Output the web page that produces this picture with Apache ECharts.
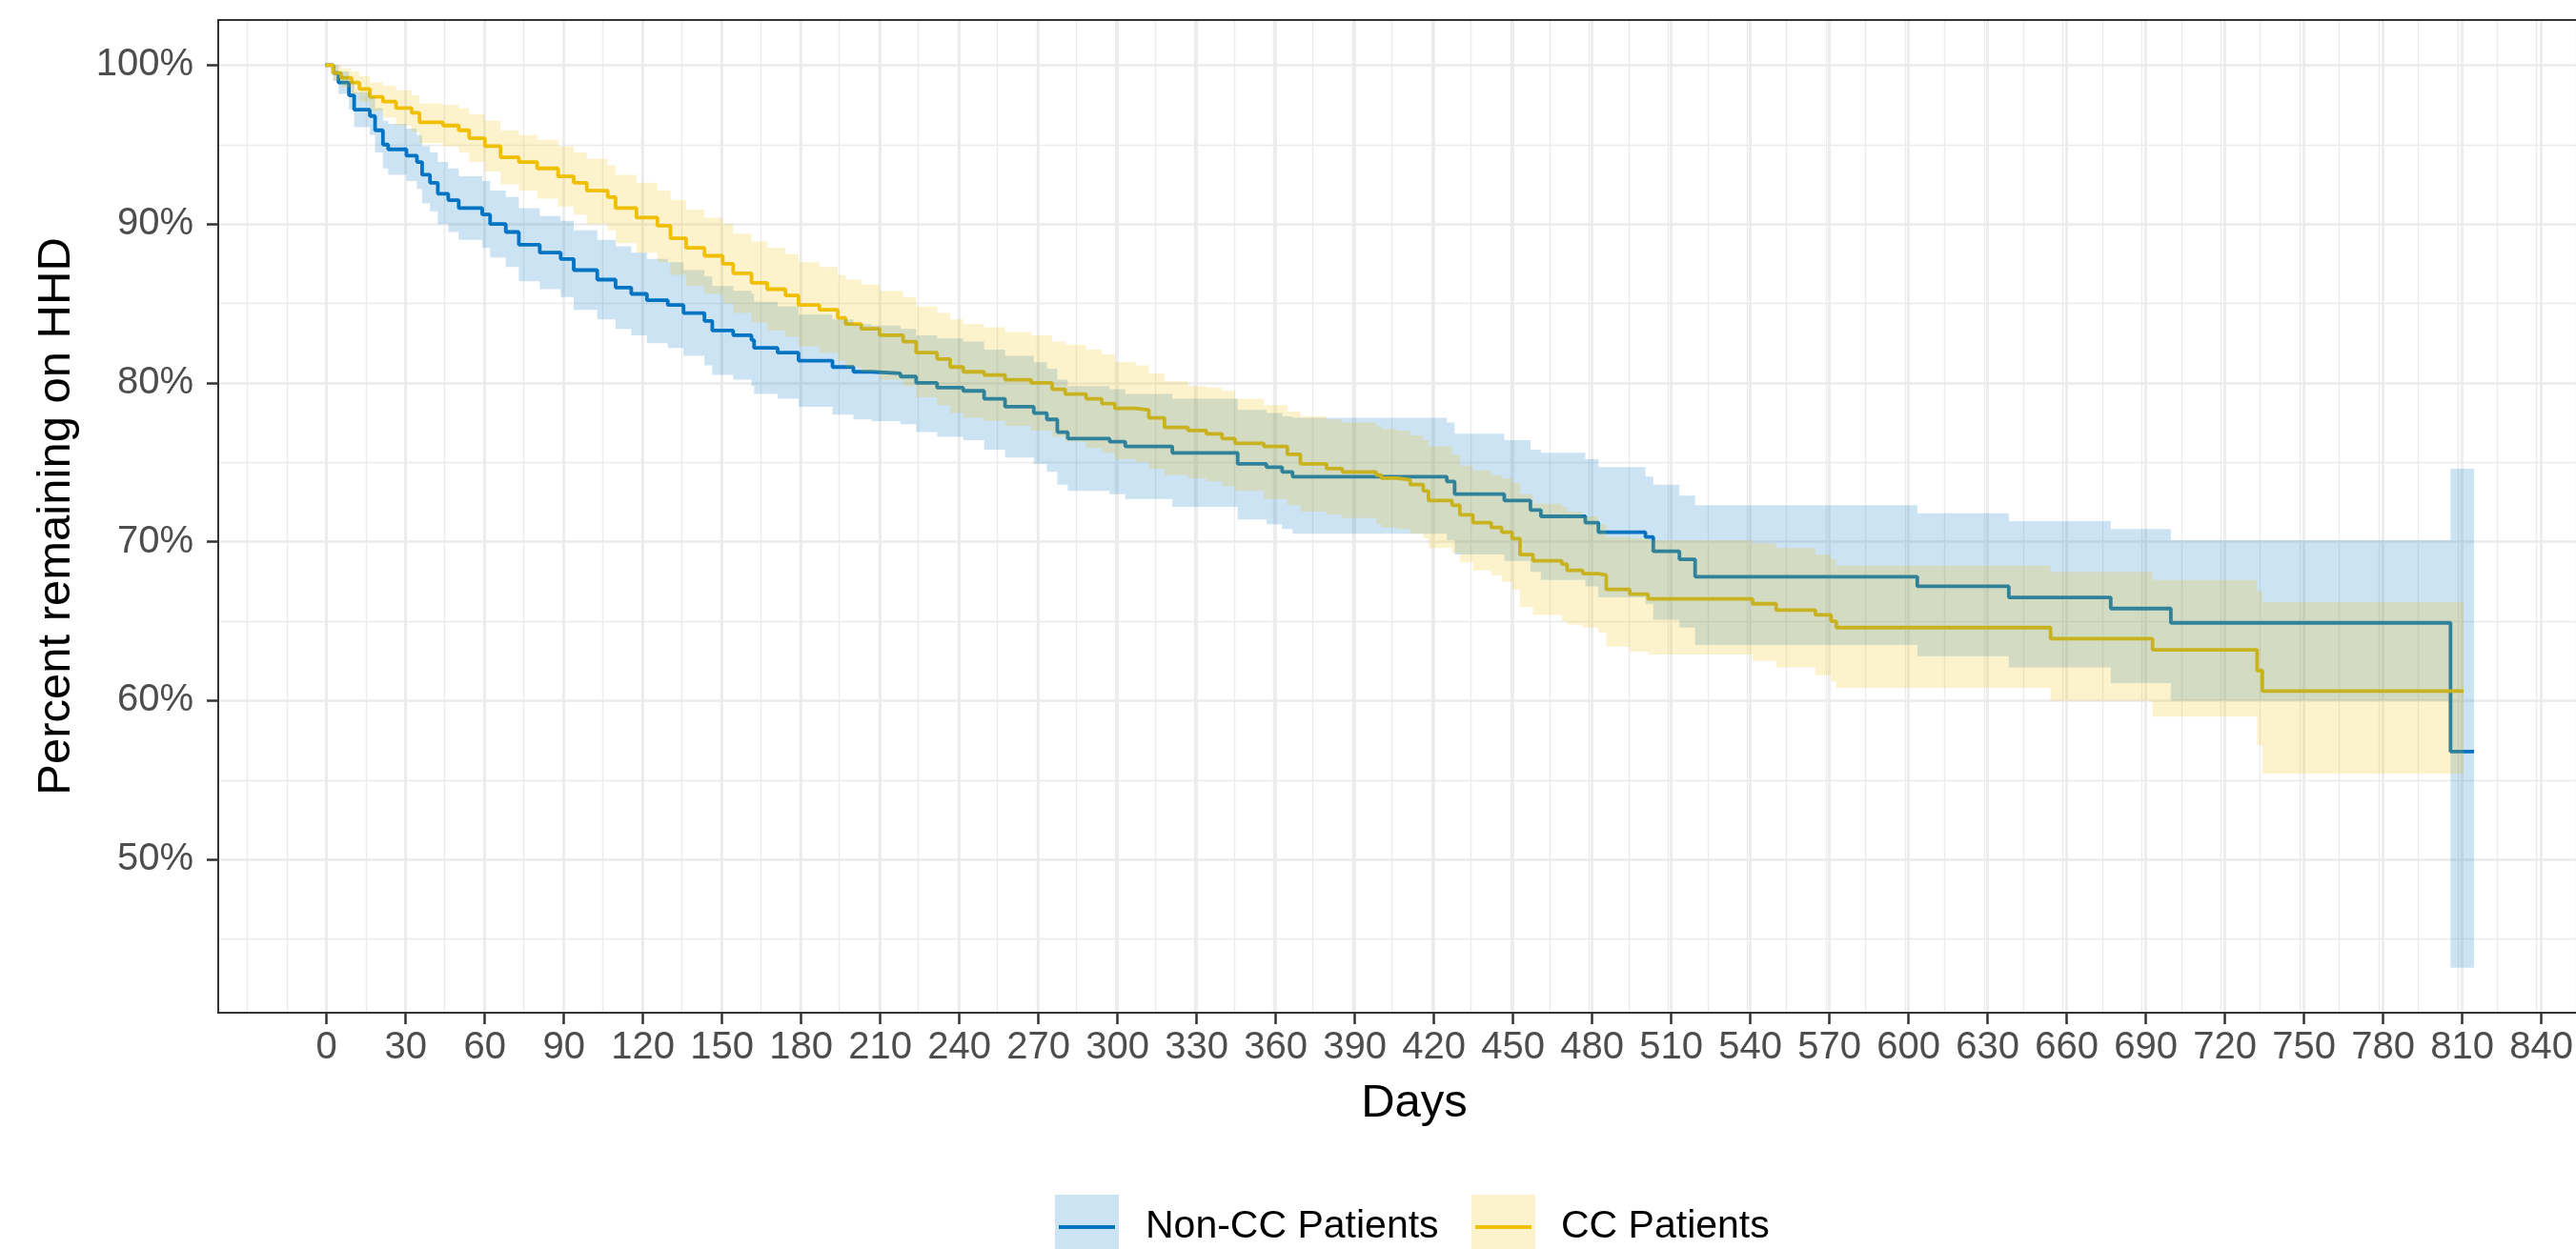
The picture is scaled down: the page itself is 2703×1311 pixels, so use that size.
<!DOCTYPE html>
<html>
<head>
<meta charset="utf-8">
<title>Percent remaining on HHD</title>
<script src="https://cdn.jsdelivr.net/npm/echarts/dist/echarts.min.js"></script>
<style>
  html, body { margin: 0; padding: 0; background: #ffffff; }
  #chart { width: 2703px; height: 1311px; }
</style>
</head>
<body>
<div id="chart"></div>
<script>
// Kaplan-Meier steps: day, estimate, lower / upper CI (%)
const nonccDays  = [0, 3, 5, 9, 11, 17, 19, 22, 24, 31, 35, 37, 40, 43, 47, 51, 60, 63, 69, 74, 82, 90, 95, 104, 111, 117, 123, 131, 137, 145, 148, 156, 163, 164, 173, 181, 194, 202, 209, 220, 226, 234, 244, 252, 260, 271, 276, 280, 284, 300, 306, 324, 349, 360, 366, 370, 429, 432, 451, 461, 465, 482, 487, 505, 508, 518, 524, 609, 644, 683, 706, 813, 822]
const nonccSurv  = [100, 99.5, 98.9, 98.1, 97.2, 96.8, 95.9, 95.0, 94.7, 94.3, 93.9, 93.1, 92.6, 91.9, 91.5, 91.0, 90.6, 90.0, 89.5, 88.7, 88.2, 87.8, 87.1, 86.5, 86.0, 85.6, 85.2, 84.9, 84.4, 83.9, 83.3, 83.0, 82.7, 82.2, 81.9, 81.4, 81.0, 80.7, 80.6, 80.4, 80.0, 79.7, 79.5, 79.0, 78.5, 78.1, 77.7, 76.9, 76.5, 76.3, 76.0, 75.6, 74.9, 74.7, 74.4, 74.1, 73.8, 73.0, 72.6, 72.0, 71.6, 71.2, 70.6, 70.3, 69.4, 68.9, 67.8, 67.2, 66.5, 65.8, 64.9, 56.8, 56.8]
const nonccLower = [100, 99.0, 98.2, 97.2, 96.1, 95.6, 94.5, 93.5, 93.1, 92.7, 92.2, 91.3, 90.8, 90.0, 89.5, 89.0, 88.5, 87.9, 87.3, 86.4, 85.9, 85.4, 84.6, 84.0, 83.4, 83.0, 82.5, 82.2, 81.7, 81.1, 80.5, 80.2, 79.8, 79.3, 79.0, 78.5, 78.0, 77.7, 77.6, 77.4, 76.9, 76.6, 76.4, 75.8, 75.3, 74.9, 74.4, 73.6, 73.2, 73.0, 72.7, 72.2, 71.4, 71.1, 70.8, 70.5, 70.1, 69.2, 68.8, 68.1, 67.6, 67.2, 66.5, 66.1, 65.1, 64.6, 63.5, 62.8, 62.1, 61.1, 60.0, 43.2, 43.2]
const nonccUpper = [100, 100, 99.6, 99.0, 98.3, 98.0, 97.3, 96.5, 96.3, 96.0, 95.6, 94.9, 94.5, 93.9, 93.5, 93.0, 92.7, 92.1, 91.7, 91.0, 90.5, 90.2, 89.6, 89.0, 88.6, 88.2, 87.8, 87.6, 87.1, 86.7, 86.1, 85.8, 85.6, 85.1, 84.8, 84.3, 84.0, 83.7, 83.6, 83.4, 83.0, 82.8, 82.6, 82.1, 81.7, 81.3, 80.9, 80.2, 79.8, 79.6, 79.3, 79.0, 78.3, 78.1, 77.9, 77.8, 77.5, 76.8, 76.4, 75.8, 75.6, 75.2, 74.7, 74.1, 73.6, 72.9, 72.3, 71.8, 71.3, 70.8, 70.1, 74.6, 74.6]

const ccDays  = [0, 3, 6, 10, 13, 17, 22, 27, 33, 36, 45, 51, 55, 61, 67, 74, 81, 89, 95, 100, 108, 111, 119, 127, 132, 138, 145, 152, 156, 163, 169, 176, 181, 189, 196, 199, 205, 212, 221, 226, 234, 239, 244, 252, 260, 270, 278, 283, 291, 297, 302, 310, 315, 321, 330, 337, 343, 348, 359, 368, 373, 383, 389, 402, 404, 410, 415, 420, 422, 431, 434, 439, 446, 450, 454, 457, 462, 473, 475, 481, 487, 490, 499, 506, 546, 555, 570, 576, 578, 660, 699, 739, 741, 818]
const ccSurv  = [100, 99.5, 99.2, 98.9, 98.5, 98.0, 97.7, 97.3, 97.0, 96.4, 96.2, 95.9, 95.4, 94.9, 94.2, 93.9, 93.5, 93.0, 92.6, 92.1, 91.7, 91.0, 90.4, 89.9, 89.1, 88.5, 88.0, 87.5, 86.9, 86.3, 85.9, 85.5, 84.9, 84.6, 84.1, 83.7, 83.4, 83.0, 82.6, 81.9, 81.5, 81.0, 80.7, 80.5, 80.2, 80.0, 79.6, 79.3, 79.0, 78.7, 78.4, 78.3, 77.8, 77.2, 77.0, 76.8, 76.5, 76.2, 76.0, 75.5, 74.9, 74.6, 74.4, 74.2, 74.0, 73.9, 73.6, 73.2, 72.6, 72.3, 71.7, 71.2, 70.9, 70.6, 70.2, 69.2, 68.8, 68.6, 68.2, 68.0, 67.9, 67.0, 66.7, 66.4, 66.1, 65.7, 65.4, 65.0, 64.6, 63.9, 63.2, 61.9, 60.6, 60.6]
const ccLower = [100, 99.0, 98.6, 98.2, 97.7, 97.1, 96.7, 96.2, 95.8, 95.1, 94.9, 94.5, 93.9, 93.3, 92.5, 92.1, 91.6, 91.1, 90.6, 90.0, 89.6, 88.8, 88.2, 87.6, 86.8, 86.1, 85.6, 85.0, 84.4, 83.8, 83.3, 82.9, 82.3, 81.9, 81.4, 81.0, 80.7, 80.2, 79.8, 79.1, 78.6, 78.1, 77.8, 77.6, 77.3, 77.0, 76.6, 76.3, 75.9, 75.6, 75.2, 75.0, 74.6, 74.2, 74.0, 73.8, 73.5, 73.2, 72.7, 72.3, 71.9, 71.7, 71.5, 71.1, 70.9, 70.8, 70.5, 70.2, 69.6, 69.3, 68.7, 68.2, 67.9, 67.5, 67.0, 65.9, 65.4, 65.0, 64.8, 64.6, 64.3, 63.4, 63.1, 62.9, 62.5, 62.1, 61.6, 61.2, 60.8, 60.0, 59.0, 57.2, 55.4, 55.4]
const ccUpper = [100, 100, 99.8, 99.6, 99.3, 98.9, 98.7, 98.4, 98.1, 97.6, 97.5, 97.3, 96.9, 96.5, 95.9, 95.6, 95.3, 94.9, 94.5, 94.1, 93.7, 93.1, 92.6, 92.1, 91.5, 90.9, 90.4, 90.0, 89.4, 88.9, 88.5, 88.1, 87.6, 87.3, 86.8, 86.5, 86.2, 85.8, 85.4, 84.8, 84.4, 84.0, 83.7, 83.5, 83.2, 83.0, 82.6, 82.4, 82.1, 81.8, 81.3, 81.1, 80.6, 80.1, 79.8, 79.7, 79.5, 79.0, 78.6, 78.2, 77.9, 77.7, 77.5, 77.3, 77.1, 77.0, 76.7, 76.4, 76.0, 75.5, 74.8, 74.5, 74.2, 74.0, 73.7, 73.0, 72.4, 72.2, 71.9, 71.6, 71.1, 70.3, 70.2, 70.1, 69.9, 69.6, 69.2, 68.9, 68.5, 68.1, 67.6, 66.9, 66.2, 66.2]

const groupNames = ['Non-CC Patients', 'CC Patients']
const lineColors = ['#0073C2', '#EFC000']
const bandColors = ['rgba(0,115,194,0.2)', 'rgba(239,192,0,0.2)']

const dayTicks = { min: 0, max: 840, step: 30 }
const pctTicks = { min: 50, max: 100, step: 10 }

// panel placement and data range of the panel (ggplot style expansion)
const plot = { left: 229, top: 21, width: 2502, height: 1042 }
const xRange = [-41, 861]
const yRange = [40.36, 102.84]
const xPix = d => plot.left + (d - xRange[0]) / (xRange[1] - xRange[0]) * plot.width
const yPix = p => plot.top + (yRange[1] - p) / (yRange[1] - yRange[0]) * plot.height

const FONT = "'Liberation Sans', Arial, Helvetica, sans-serif"
const gridColor = '#EBEBEB'

const chart = echarts.init(document.getElementById('chart'))

const hiddenAxis = (gridIndex) => ({ type: 'value', gridIndex, show: false, min: 0, max: 1 })

const bandSeries = (days, lower, upper, color) => ({
  type: 'custom',
  xAxisIndex: 0,
  yAxisIndex: 0,
  z: 3,
  silent: true,
  data: [[0, 100]],
  renderItem: (params, api) => {
    const pts = []
    for (let i = 0; i < days.length; i++) {
      const next = i + 1 < days.length ? days[i + 1] : days[i]
      pts.push(api.coord([days[i], upper[i]]))
      pts.push(api.coord([next, upper[i]]))
    }
    for (let j = days.length - 1; j >= 0; j--) {
      const next = j + 1 < days.length ? days[j + 1] : days[j]
      pts.push(api.coord([next, lower[j]]))
      pts.push(api.coord([days[j], lower[j]]))
    }
    return { type: 'polygon', shape: { points: pts }, style: { fill: color } }
  }
})

const lineSeries = (name, days, surv, color) => ({
  name,
  type: 'line',
  xAxisIndex: 0,
  yAxisIndex: 0,
  step: 'end',
  z: 2,
  showSymbol: false,
  silent: true,
  lineStyle: { color, width: 3.8 },
  data: days.map((d, i) => [d, surv[i]])
})

// legend keys drawn like the ggplot ones: fill box with the line on top
const legendItems = [
  { box: 1107, text: 1202 },
  { box: 1544, text: 1638 }
]
const legendGraphics = []
legendItems.forEach((it, i) => {
  legendGraphics.push({
    type: 'rect', z: 100,
    shape: { x: it.box, y: 1254, width: 67, height: 67 },
    style: { fill: bandColors[i] }
  })
  legendGraphics.push({
    type: 'line', z: 101,
    shape: { x1: it.box + 4, y1: 1288, x2: it.box + 63, y2: 1288 },
    style: { stroke: lineColors[i], lineWidth: 4 }
  })
  legendGraphics.push({
    type: 'text', z: 101, x: it.text, y: 1288,
    style: { text: groupNames[i], fill: '#000000', font: '41px ' + FONT, textVerticalAlign: 'middle', textAlign: 'left' }
  })
})

const option = {
  backgroundColor: '#ffffff',
  animation: false,
  grid: [
    // 0: data panel
    { left: plot.left, top: plot.top, width: plot.width, height: plot.height },
    // 1: day ticks, labels, major grid
    { left: xPix(dayTicks.min), top: plot.top, width: xPix(dayTicks.max) - xPix(dayTicks.min), height: plot.height },
    // 2: minor day grid
    { left: xPix(-30), top: plot.top, width: xPix(855) - xPix(-30), height: plot.height },
    // 3: percent ticks, labels, major grid
    { left: plot.left, top: yPix(pctTicks.max), width: plot.width, height: yPix(pctTicks.min) - yPix(pctTicks.max) },
    // 4: minor percent grid
    { left: plot.left, top: yPix(95), width: plot.width, height: yPix(45) - yPix(95) }
  ],
  xAxis: [
    { type: 'value', gridIndex: 0, min: xRange[0], max: xRange[1], show: false },
    {
      type: 'value', gridIndex: 1, min: dayTicks.min, max: dayTicks.max, interval: dayTicks.step,
      axisLine: { show: false },
      axisTick: { show: true, length: 12, lineStyle: { color: '#333333', width: 2.5 } },
      axisLabel: { show: true, margin: 17, color: '#4D4D4D', fontSize: 40, fontFamily: FONT, showMinLabel: true, showMaxLabel: true },
      splitLine: { show: true, lineStyle: { color: gridColor, width: 2.6 } }
    },
    {
      type: 'value', gridIndex: 2, min: -30, max: 855, interval: 15,
      axisLine: { show: false }, axisTick: { show: false }, axisLabel: { show: false },
      splitLine: { show: true, lineStyle: { color: gridColor, width: 1.3 } }
    },
    hiddenAxis(3),
    hiddenAxis(4)
  ],
  yAxis: [
    { type: 'value', gridIndex: 0, min: yRange[0], max: yRange[1], show: false },
    hiddenAxis(1),
    hiddenAxis(2),
    {
      type: 'value', gridIndex: 3, min: pctTicks.min, max: pctTicks.max, interval: pctTicks.step,
      axisLine: { show: false },
      axisTick: { show: true, length: 12, lineStyle: { color: '#333333', width: 2.5 } },
      axisLabel: { show: true, margin: 26, color: '#4D4D4D', fontSize: 40, fontFamily: FONT, formatter: '{value}%' },
      splitLine: { show: true, lineStyle: { color: gridColor, width: 2.6 } }
    },
    {
      type: 'value', gridIndex: 4, min: 45, max: 95, interval: 10,
      axisLine: { show: false }, axisTick: { show: false }, axisLabel: { show: false },
      splitLine: { show: true, lineStyle: { color: gridColor, width: 1.3 } }
    }
  ],
  series: [
    lineSeries(groupNames[0], nonccDays, nonccSurv, lineColors[0]),
    lineSeries(groupNames[1], ccDays, ccSurv, lineColors[1]),
    bandSeries(nonccDays, nonccLower, nonccUpper, bandColors[0]),
    bandSeries(ccDays, ccLower, ccUpper, bandColors[1])
  ],
  graphic: [
    // panel border
    {
      type: 'rect', z: 100,
      shape: { x: plot.left, y: plot.top, width: plot.width, height: plot.height },
      style: { fill: 'none', stroke: '#333333', lineWidth: 2 }
    },
    {
      type: 'text', z: 100, x: 1484, y: 1158,
      style: { text: 'Days', fill: '#000000', font: '49px ' + FONT, textAlign: 'center', textVerticalAlign: 'middle' }
    },
    {
      type: 'text', z: 100, x: 59, y: 542, rotation: Math.PI / 2,
      style: { text: 'Percent remaining on HHD', fill: '#000000', font: '49px ' + FONT, textAlign: 'center', textVerticalAlign: 'middle' }
    }
  ].concat(legendGraphics)
}

chart.setOption(option)
</script>
</body>
</html>
